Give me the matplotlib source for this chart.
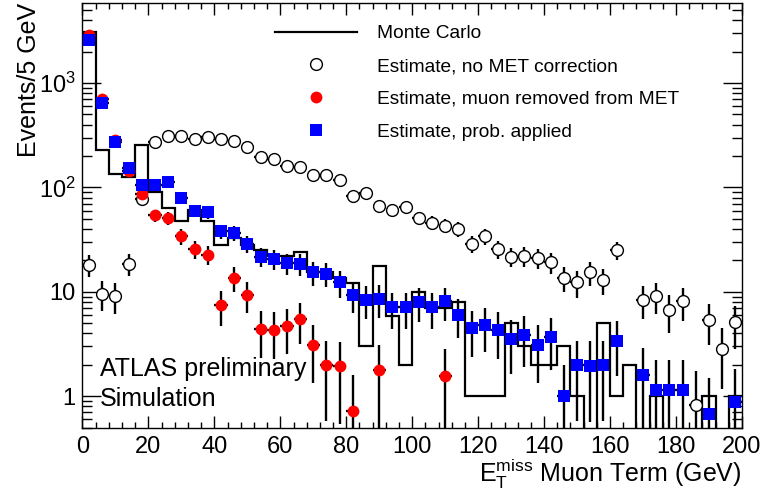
import numpy as np
import matplotlib
matplotlib.use('Agg')
import matplotlib.pyplot as plt
from matplotlib.lines import Line2D
from matplotlib.ticker import MultipleLocator, FixedLocator, FixedFormatter, NullFormatter

plt.rcParams['font.family'] = ['Liberation Sans', 'DejaVu Sans']
plt.rcParams['mathtext.fontset'] = 'custom'
plt.rcParams['mathtext.rm'] = 'Liberation Sans'
plt.rcParams['mathtext.it'] = 'Liberation Sans:italic'

nan = np.nan

# 4 GeV bins from 0 to 200
edges = np.arange(0, 204, 4)
centers = edges[:-1] + 2

# Monte Carlo histogram (bin contents)
mc = [3100, 230, 135, 127, 255, 91, 63, 48, 61, 48,
      28, 33, 28, 25, 22, 22, 24, 15.4, 15.4, 13.5,
      12.2, 3.0, 17.8, 5.9, 2.0, 9.9, 7.0, 7.0, 8.0, 1.0,
      1.0, 1.0, 5.0, 3.0, 2.0, 2.0, 3.0, 1.0, 0, 5.0,
      1.0, 2.0, 0, 1.0, 0, 0, 0, 1.0, 0, 1.0]

# Estimate, no MET correction
no_corr = [18.2, 9.6, 9.1, 18.6, 78, 270, 312, 308, 290, 304,
           290, 276, 244, 194, 187, 161, 157, 132, 132, 118,
           82, 88, 67, 61, 65, 51, 46, 43, 40, 29,
           34, 25.7, 21.8, 22.2, 21, 19.2, 13.6, 12.3, 15.4, 12.9,
           25, nan, 8.4, 9.2, 6.65, 8.1, 0.83, 5.4, 2.86, 5.1]

# Estimate, muon removed from MET
mu_removed = [2890, 700, 286, 145, 86, 54, 51, 34, 25.7, 22.7,
              7.5, 13.6, 9.4, 4.4, 4.35, 4.7, 5.5, 3.1, 2.0, 1.94,
              0.73, nan, 1.77, nan, nan, nan, nan, 1.58, nan, nan,
              nan, nan, nan, nan, nan, nan, nan, nan, nan, nan,
              nan, nan, nan, nan, nan, nan, nan, nan, nan, nan]

# Estimate, prob. applied
prob = [2590, 650, 270, 155, 106, 105, 112, 79, 60, 58,
        38, 36.6, 28.9, 21.8, 20.8, 18.9, 18.6, 15.4, 14.9, 12.3,
        9.4, 8.4, 8.6, 7.1, 7.1, 8.0, 7.1, 8.1, 6.05, 4.5,
        4.86, 4.35, 3.5, 3.9, 3.1, 3.7, 1.0, 2.0, 1.97, 2.0,
        3.4, nan, 1.61, 1.16, 1.16, 1.16, nan, 0.67, nan, 0.88]

fig = plt.figure(figsize=(7.63, 4.94), dpi=100)
ax = fig.add_axes([0.1081, 0.1342, 0.8643, 0.8591])

mc_arr = np.array(mc, dtype=float)
mc_arr[mc_arr <= 0] = 1e-3
ax.stairs(mc_arr, edges, baseline=None, color='black', lw=1.6, zorder=2)


def draw_points(vals, **style):
    v = np.array(vals, dtype=float)
    ok = ~np.isnan(v)
    x = centers[ok]
    y = v[ok]
    err = np.sqrt(y)
    lo = np.minimum(err, y * 0.999)
    ax.errorbar(x, y, yerr=[lo, err], xerr=2, fmt='none', ecolor='black',
                elinewidth=1.7, capsize=0, zorder=3)
    ax.plot(x, y, ls='none', zorder=4, **style)


draw_points(no_corr, marker='o', ms=8.5, mfc='white', mec='black', mew=1.0)
draw_points(mu_removed, marker='o', ms=8.5, mfc='red', mec='red', mew=0)
draw_points(prob, marker='s', ms=8, mfc='blue', mec='blue', mew=0)

ax.set_yscale('log')
ax.set_xlim(0, 200)
ax.set_ylim(0.5, 5800)

ax.xaxis.set_major_locator(MultipleLocator(20))
ax.xaxis.set_minor_locator(MultipleLocator(4))
ax.yaxis.set_major_locator(FixedLocator([1, 10, 100, 1000]))
ax.yaxis.set_major_formatter(FixedFormatter(['1', '10', r'$\mathregular{10^{2}}$', r'$\mathregular{10^{3}}$']))
minors = [m * 10.0 ** d for d in range(-1, 4) for m in range(2, 10)]
ax.yaxis.set_minor_locator(FixedLocator(minors))
ax.yaxis.set_minor_formatter(NullFormatter())

ax.tick_params(axis='both', which='both', direction='in', top=True, right=True,
               width=1.0, labelsize=17)
ax.tick_params(axis='x', which='major', length=8.5, pad=6)
ax.tick_params(axis='x', which='minor', length=4.3)
ax.tick_params(axis='y', which='major', length=13.5, pad=5)
ax.tick_params(axis='y', which='minor', length=7)
for s in ax.spines.values():
    s.set_linewidth(1.0)

ax.set_xlabel(r'$\mathregular{E_{T}^{miss}}$ Muon Term (GeV)', fontsize=18, loc='right', labelpad=-0.5)
ax.set_ylabel('Events/5 GeV', fontsize=18, loc='top', labelpad=-2)

ax.text(0.027, 0.122, 'ATLAS preliminary', transform=ax.transAxes, fontsize=18)
ax.text(0.027, 0.052, 'Simulation', transform=ax.transAxes, fontsize=18)

handles = [
    Line2D([], [], color='black', lw=1.6),
    Line2D([], [], ls='none', marker='o', ms=8.5, mfc='white', mec='black', mew=1.0),
    Line2D([], [], ls='none', marker='o', ms=8.5, mfc='red', mec='red', mew=0),
    Line2D([], [], ls='none', marker='s', ms=8, mfc='blue', mec='blue', mew=0),
]
labels = ['Monte Carlo', 'Estimate, no MET correction',
          'Estimate, muon removed from MET', 'Estimate, prob. applied']
ax.legend(handles, labels, loc='upper left', bbox_to_anchor=(275 / 763, 1 - 25 / 494),
          bbox_transform=fig.transFigure, frameon=False, fontsize=13.8,
          handlelength=4.3, handletextpad=1.0, labelspacing=0.8, borderpad=0,
          borderaxespad=0)

fig.savefig('out.png', dpi=100)
